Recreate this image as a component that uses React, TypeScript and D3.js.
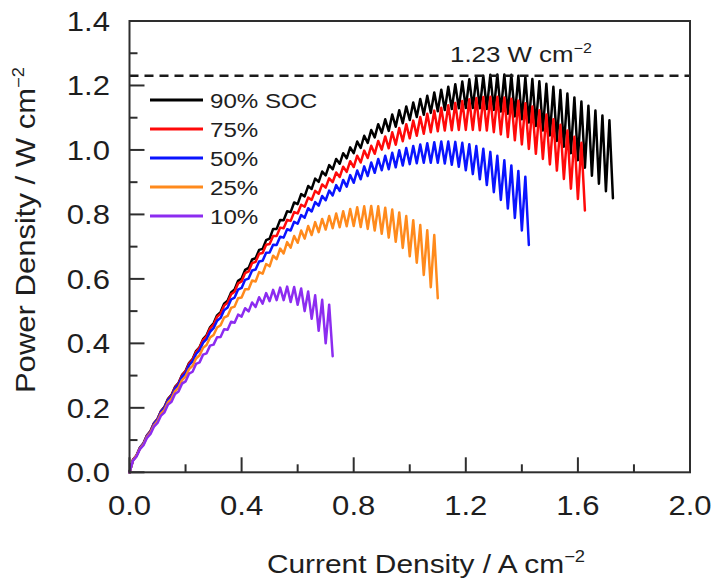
import React from 'react';
import * as d3 from 'd3';

const W = 718;
const H = 585;

// Current at the end of each current step (A cm^-2)
const stepCurrents = [
  0.025, 0.05, 0.075, 0.1, 0.125, 0.15, 0.175, 0.2, 0.225, 0.25,
  0.275, 0.3, 0.325, 0.35, 0.375, 0.4, 0.425, 0.45, 0.475, 0.5,
  0.525, 0.55, 0.575, 0.6, 0.625, 0.65, 0.675, 0.7, 0.725, 0.75,
  0.775, 0.8, 0.825, 0.85, 0.875, 0.9, 0.925, 0.95, 0.975, 1.0,
  1.025, 1.05, 1.075, 1.1, 1.125, 1.15, 1.175, 1.2, 1.225, 1.25,
  1.275, 1.3, 1.325, 1.35, 1.375, 1.4, 1.425, 1.45, 1.475, 1.5,
  1.525, 1.55, 1.575, 1.6, 1.625, 1.65, 1.675, 1.7, 1.725,
];

// Peak power density of each step and trough that follows it (W cm^-2)
const soc90Top = [
  0.039, 0.077, 0.115, 0.153, 0.19, 0.228, 0.265, 0.302, 0.339, 0.376,
  0.413, 0.45, 0.487, 0.523, 0.558, 0.594, 0.628, 0.66, 0.69, 0.72,
  0.755, 0.783, 0.81, 0.837, 0.863, 0.888, 0.911, 0.933, 0.953, 0.972,
  0.99, 1.008, 1.026, 1.044, 1.062, 1.08, 1.095, 1.11, 1.123, 1.135,
  1.147, 1.158, 1.168, 1.178, 1.187, 1.196, 1.204, 1.212, 1.219, 1.225,
  1.23, 1.233, 1.234, 1.234, 1.233, 1.23, 1.225, 1.22, 1.213, 1.205,
  1.196, 1.186, 1.175, 1.163, 1.15, 1.137, 1.122, 1.107, 1.092,
];
const soc90Bottom = [
  0.052, 0.09, 0.128, 0.165, 0.203, 0.24, 0.277, 0.314, 0.351, 0.388,
  0.425, 0.462, 0.497, 0.532, 0.567, 0.601, 0.634, 0.664, 0.693, 0.725,
  0.755, 0.782, 0.807, 0.832, 0.856, 0.879, 0.901, 0.921, 0.94, 0.957,
  0.974, 0.99, 1.006, 1.022, 1.039, 1.053, 1.059, 1.072, 1.083, 1.093,
  1.102, 1.109, 1.115, 1.12, 1.124, 1.127, 1.129, 1.13, 1.13, 1.129,
  1.127, 1.124, 1.119, 1.112, 1.104, 1.095, 1.085, 1.074, 1.06, 1.045,
  1.028, 1.01, 0.99, 0.968, 0.945, 0.92, 0.895, 0.872, 0.85,
];
const soc75Top = [
  0.039, 0.076, 0.114, 0.152, 0.189, 0.226, 0.263, 0.3, 0.337, 0.373,
  0.41, 0.446, 0.482, 0.517, 0.552, 0.586, 0.618, 0.649, 0.678, 0.706,
  0.733, 0.759, 0.783, 0.807, 0.83, 0.852, 0.873, 0.893, 0.912, 0.93,
  0.948, 0.965, 0.982, 0.998, 1.013, 1.028, 1.042, 1.055, 1.068, 1.08,
  1.091, 1.102, 1.112, 1.122, 1.131, 1.139, 1.146, 1.152, 1.157, 1.161,
  1.164, 1.165, 1.165, 1.163, 1.159, 1.153, 1.145, 1.135, 1.123, 1.11,
  1.095, 1.078, 1.06, 1.041, 1.022,
];
const soc75Bottom = [
  0.052, 0.089, 0.127, 0.165, 0.202, 0.239, 0.276, 0.313, 0.349, 0.386,
  0.422, 0.458, 0.492, 0.526, 0.56, 0.592, 0.623, 0.653, 0.68, 0.708,
  0.733, 0.757, 0.78, 0.803, 0.824, 0.845, 0.864, 0.883, 0.9, 0.916,
  0.932, 0.947, 0.961, 0.975, 0.988, 1.001, 1.005, 1.016, 1.027, 1.036,
  1.044, 1.05, 1.055, 1.058, 1.06, 1.061, 1.062, 1.062, 1.062, 1.061,
  1.06, 1.055, 1.048, 1.04, 1.03, 1.017, 1.003, 0.988, 0.972, 0.955,
  0.936, 0.91, 0.88, 0.848, 0.812,
];
const soc50Top = [
  0.038, 0.076, 0.113, 0.151, 0.188, 0.224, 0.26, 0.296, 0.332, 0.367,
  0.402, 0.436, 0.47, 0.503, 0.536, 0.567, 0.597, 0.626, 0.654, 0.681,
  0.706, 0.731, 0.754, 0.777, 0.798, 0.819, 0.838, 0.857, 0.874, 0.891,
  0.907, 0.922, 0.936, 0.949, 0.961, 0.972, 0.982, 0.991, 0.999, 1.006,
  1.012, 1.017, 1.021, 1.024, 1.026, 1.026, 1.025, 1.022, 1.018, 1.012,
  1.004, 0.994, 0.982, 0.968, 0.952, 0.935, 0.917,
];
const soc50Bottom = [
  0.051, 0.089, 0.126, 0.164, 0.2, 0.236, 0.272, 0.308, 0.344, 0.379,
  0.413, 0.447, 0.479, 0.511, 0.542, 0.572, 0.601, 0.629, 0.656, 0.682,
  0.705, 0.728, 0.75, 0.771, 0.79, 0.809, 0.827, 0.844, 0.859, 0.873,
  0.886, 0.898, 0.909, 0.919, 0.929, 0.937, 0.94, 0.946, 0.952, 0.956,
  0.959, 0.96, 0.96, 0.96, 0.958, 0.954, 0.948, 0.937, 0.925, 0.909,
  0.891, 0.869, 0.845, 0.818, 0.789, 0.75, 0.705,
];
const soc25Top = [
  0.037, 0.074, 0.11, 0.146, 0.182, 0.217, 0.252, 0.286, 0.32, 0.353,
  0.386, 0.418, 0.449, 0.48, 0.51, 0.54, 0.568, 0.595, 0.621, 0.646,
  0.672, 0.694, 0.714, 0.733, 0.75, 0.764, 0.776, 0.786, 0.795, 0.803,
  0.81, 0.817, 0.822, 0.825, 0.826, 0.825, 0.821, 0.815, 0.806, 0.795,
  0.782, 0.767, 0.751, 0.736,
];
const soc25Bottom = [
  0.051, 0.087, 0.123, 0.159, 0.194, 0.229, 0.263, 0.297, 0.33, 0.363,
  0.395, 0.426, 0.456, 0.485, 0.514, 0.542, 0.568, 0.592, 0.616, 0.639,
  0.661, 0.679, 0.697, 0.712, 0.725, 0.736, 0.745, 0.753, 0.757, 0.76,
  0.763, 0.764, 0.761, 0.755, 0.75, 0.74, 0.728, 0.715, 0.696, 0.67,
  0.65, 0.612, 0.574, 0.54,
];
const soc10Top = [
  0.036, 0.072, 0.107, 0.142, 0.176, 0.21, 0.243, 0.275, 0.306, 0.336,
  0.365, 0.393, 0.419, 0.444, 0.467, 0.489, 0.509, 0.527, 0.543, 0.556,
  0.566, 0.573, 0.576, 0.575, 0.57, 0.561, 0.549, 0.535, 0.52,
];
const soc10Bottom = [
  0.049, 0.084, 0.119, 0.153, 0.186, 0.219, 0.251, 0.282, 0.312, 0.341,
  0.369, 0.396, 0.42, 0.442, 0.464, 0.483, 0.499, 0.513, 0.523, 0.531,
  0.534, 0.534, 0.528, 0.52, 0.5, 0.476, 0.439, 0.4, 0.36,
];

const seriesNames = ['90% SOC', '75%', '50%', '25%', '10%'];
const seriesColors = ['#000000', '#ff0a0a', '#0a14ff', '#ff8a1c', '#8c2cf0'];
const seriesTops = [soc90Top, soc75Top, soc50Top, soc25Top, soc10Top];
const seriesBottoms = [soc90Bottom, soc75Bottom, soc50Bottom, soc25Bottom, soc10Bottom];

const xMajorTicks = [0, 0.4, 0.8, 1.2, 1.6, 2.0];
const xMinorTicks = [0.2, 0.6, 1.0, 1.4, 1.8];
const yMajorTicks = [0, 0.2, 0.4, 0.6, 0.8, 1.0, 1.2, 1.4];
const yMinorTicks = [0.1, 0.3, 0.5, 0.7, 0.9, 1.1, 1.3];
const referencePower = 1.23;

const X0 = 129.5, X1 = 690, Y0 = 472.3, Y1 = 21;
const SX = 1.15;
const FONT = "'Liberation Sans', Arial, Helvetica, sans-serif";
const TXT = '#1e1e1e';
const AX = '#2e2e2e';

const x = d3.scaleLinear().domain([0, 2]).range([X0, X1]);
const y = d3.scaleLinear().domain([0, 1.4]).range([Y0, Y1]);
const fmt = d3.format('.1f');
const fmt2 = d3.format('.2f');

const line = d3
  .line<[number, number]>()
  .x((d) => x(d[0]))
  .y((d) => y(d[1]));

function buildPoints(tops: number[], bottoms: number[]): [number, number][] {
  const half = (stepCurrents[1] - stepCurrents[0]) / 2;
  const pts: [number, number][] = [[0, 0]];
  tops.forEach((t, i) => {
    pts.push([stepCurrents[i] - half, t]);
    pts.push([stepCurrents[i], bottoms[i]]);
  });
  return pts;
}

function SText(props: {
  x: number; y: number; size: number; anchor?: string; rotate?: boolean; dy?: string; children: React.ReactNode;
}) {
  const { x: tx, y: ty, size, anchor = 'start', rotate = false, dy, children } = props;
  return (
    <text
      transform={`translate(${tx},${ty})${rotate ? ' rotate(-90)' : ''} scale(${SX},1)`}
      textAnchor={anchor}
      fontSize={size}
      fontFamily={FONT}
      fill={TXT}
      dy={dy}
    >
      {children}
    </text>
  );
}

export default function App() {
  const MAJ = 15, MIN = 8;
  return (
    <svg
      width={W}
      height={H}
      viewBox={`0 0 ${W} ${H}`}
      style={{ position: 'absolute', left: 0, top: 0, background: '#fff' }}
    >
      {seriesTops.map((tops, k) => (
        <path
          key={seriesNames[k]}
          d={line(buildPoints(tops, seriesBottoms[k])) || ''}
          fill="none"
          stroke={seriesColors[k]}
          strokeWidth={2.5}
          strokeLinejoin="round"
          strokeLinecap="round"
        />
      ))}

      <line
        x1={X0}
        x2={X1}
        y1={y(referencePower)}
        y2={y(referencePower)}
        stroke="#1a1a1a"
        strokeWidth={2.4}
        strokeDasharray="9,6"
      />
      <SText x={450} y={62} size={22.5}>
        {fmt2(referencePower)} W cm
        <tspan dy={-9} fontSize={14}>−2</tspan>
      </SText>

      <rect x={X0} y={Y1} width={X1 - X0} height={Y0 - Y1} fill="none" stroke={AX} strokeWidth={2} />

      {xMajorTicks.map((t) => (
        <g key={'xM' + t}>
          <line x1={x(t)} x2={x(t)} y1={Y0} y2={Y0 - MAJ} stroke={AX} strokeWidth={2} />
          <SText x={x(t)} y={515} size={27} anchor="middle">{fmt(t)}</SText>
        </g>
      ))}
      {xMinorTicks.map((t) => (
        <line key={'xm' + t} x1={x(t)} x2={x(t)} y1={Y0} y2={Y0 - MIN} stroke={AX} strokeWidth={2} />
      ))}

      {yMajorTicks.map((t) => (
        <g key={'yM' + t}>
          <line x1={X0} x2={X0 + MAJ} y1={y(t)} y2={y(t)} stroke={AX} strokeWidth={2} />
          <SText x={110} y={y(t)} size={27} anchor="end" dy="0.36em">{fmt(t)}</SText>
        </g>
      ))}
      {yMinorTicks.map((t) => (
        <line key={'ym' + t} x1={X0} x2={X0 + MIN} y1={y(t)} y2={y(t)} stroke={AX} strokeWidth={2} />
      ))}

      <SText x={426} y={573} size={26} anchor="middle">
        Current Density / A cm<tspan dy={-11} fontSize={16}>−2</tspan>
      </SText>
      <SText x={35} y={230} size={27} anchor="middle" rotate>
        Power Density / W cm<tspan dy={-11} fontSize={16}>−2</tspan>
      </SText>

      {seriesNames.map((name, k) => {
        const ly = 100 + k * 29;
        return (
          <g key={'lg' + name}>
            <line x1={150} x2={203} y1={ly} y2={ly} stroke={seriesColors[k]} strokeWidth={3} />
            <SText x={210} y={ly} size={21} dy="0.36em">{name}</SText>
          </g>
        );
      })}
    </svg>
  );
}
